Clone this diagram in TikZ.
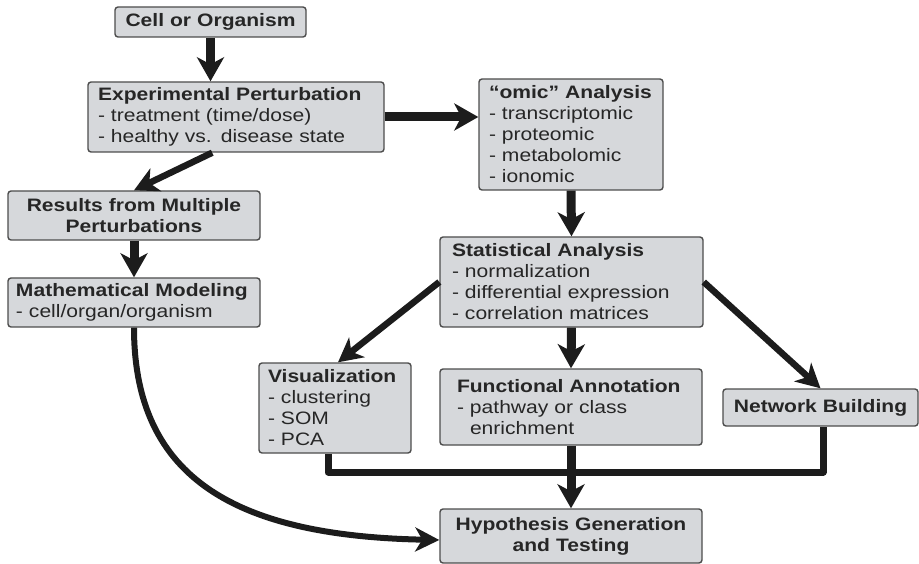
\documentclass[tikz,border=0pt]{standalone}
\usepackage{fontspec}
\setmainfont{Liberation Sans}[FakeStretch=1.17]
\usetikzlibrary{arrows.meta,calc}

\definecolor{boxfill}{HTML}{D6D8DB}
\definecolor{boxline}{HTML}{4D4D4D}
\definecolor{ink}{HTML}{262626}
\definecolor{arrowink}{HTML}{1C1C1C}

\tikzset{
  box/.style={draw=boxline, fill=boxfill, line width=1.4pt, rounded corners=3pt,
    text=ink, font=\fontsize{18}{21}\selectfont, inner ysep=0pt, align=left},
  flow/.style={draw=arrowink, line width=9pt,
    -{Stealth[length=24pt,width=27pt,inset=7pt]}},
  slant/.style={draw=arrowink, line width=6.5pt,
    -{Stealth[length=24pt,width=25pt,inset=7pt]}},
  bus/.style={draw=arrowink, line width=7pt, line join=round},
  curve/.style={draw=arrowink, line width=6pt,
    -{Stealth[length=24pt,width=24pt,inset=7pt]}},
}

\begin{document}
\begin{tikzpicture}[x=1pt,y=-1pt]
  \useasboundingbox (0,0) rectangle (919,564);

  % boxes
  \node[box, align=center, text width=171pt, inner xsep=10pt, minimum height=30pt]
    (cell) at (210.5,22) {\textbf{Cell or Organism}};
  \node[box, text width=276pt, inner xsep=10pt, minimum height=70pt]
    (exp) at (236,117) {\textbf{Experimental Perturbation}\\- treatment (time/dose)\\- healthy vs. disease state};
  \node[box, text width=164pt, inner xsep=10pt, minimum height=111pt]
    (omic) at (571,134.5) {\textbf{“omic” Analysis}\\- transcriptomic\\- proteomic\\- metabolomic\\- ionomic};
  \node[box, align=center, text width=236pt, inner xsep=8pt, minimum height=49pt]
    (res) at (134,215.5) {\textbf{Results from Multiple}\\\textbf{Perturbations}};
  \node[box, text width=236pt, inner xsep=8pt, minimum height=49pt]
    (math) at (134,302.5) {\textbf{Mathematical Modeling}\\- cell/organ/organism};
  \node[box, text width=239pt, inner xsep=12pt, minimum height=90pt]
    (stat) at (571.5,282) {\textbf{Statistical Analysis}\\- normalization\\- differential expression\\- correlation matrices};
  \node[box, text width=134pt, inner xsep=9pt, minimum height=90pt]
    (vis) at (335,408) {\textbf{Visualization}\\- clustering\\- SOM\\- PCA};
  \node[box, text width=228pt, inner xsep=17pt, minimum height=76pt]
    (func) at (571,407) {\textbf{Functional Annotation}\\- pathway or class\\\phantom{- }enrichment};
  \node[box, align=center, text width=179pt, inner xsep=8pt, minimum height=37pt]
    (net) at (820.5,407.5) {\textbf{Network Building}};
  \node[box, align=center, text width=242pt, inner xsep=10pt, minimum height=54pt]
    (hyp) at (571,536) {\textbf{Hypothesis Generation}\\\textbf{and Testing}};

  % junction points of the collecting line
  \coordinate (busL) at (328,472);
  \coordinate (busR) at (823,472);

  % connectors
  \draw[flow] (cell.south) -- (cell.south |- exp.north);
  \draw[flow] (exp.east) -- (exp.east -| omic.west);
  \draw[slant] ($(exp.south west)!0.42!(exp.south east)$) -- (res.north);
  \draw[flow] (res.south) -- (math.north);
  \draw[flow] (omic.south) -- (stat.north);
  \draw[slant] (stat.west) -- ([xshift=3pt]vis.north);
  \draw[flow] (stat.south) -- (func.north);
  \draw[slant] (stat.east) -- (net.north);
  \draw[bus] (vis.south -| busL) -- (busL) -- (busR) -- (net.south -| busR);
  \draw[flow] (func.south) -- (hyp.north);
  \draw[curve] (math.south) .. controls +(0,153) and +(-200,-4) .. ([yshift=-4pt]hyp.west);
\end{tikzpicture}
\end{document}
